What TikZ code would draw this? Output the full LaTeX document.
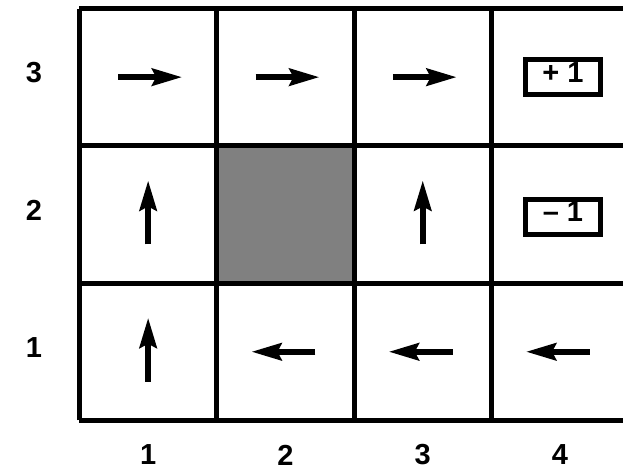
\documentclass[tikz,border=0pt]{standalone}
\usepackage{fontspec}
\setmainfont{Liberation Sans}
\usepackage{tikz}
\usetikzlibrary{arrows.meta}

\begin{document}
\begin{tikzpicture}[x=137.3pt,y=137.3pt,
  policy/.style={line width=6pt,-{Stealth[length=30pt,width=17pt,inset=4pt]}},
  reward/.style={draw,line width=5pt,minimum width=75pt,minimum height=35pt,inner sep=0pt,text depth=9pt,font=\fontsize{29}{29}\selectfont\bfseries},
  lab/.style={font=\fontsize{29}{29}\selectfont\bfseries}]
\useasboundingbox (-0.579,-0.361) rectangle (3.9585,3.062);
\begin{scope}\clip (-0.579,-0.361) rectangle (3.9585,3.062);
\fill[gray] (1,1) rectangle (2,2);
\draw[line width=5pt] (0,0) grid[step=1] (4,3);
\end{scope}
\foreach \r in {1,2,3} \node[lab] (row\r) at (-0.331,{\r-0.47}) {\r};
\foreach \c in {1,2,3,4} \node[lab] (col\c) at ({\c-0.5},-0.252) {\c};
\foreach \c/\r in {1/3,2/3,3/3} \draw[policy] ({\c-0.5-0.218},{\r-0.5}) -- ++(0.466,0);
\foreach \c/\r in {1/2,1/1,3/2} \draw[policy] ({\c-0.5},{\r-0.5-0.218}) -- ++(0,0.466);
\foreach \c in {2,3,4} \draw[policy] ({\c-0.5+0.218},0.5) -- ++(-0.466,0);
\node[reward] (plus) at (3.521,2.501) {+ 1};
\node[reward] (minus) at (3.521,1.485) {– 1};
\end{tikzpicture}
\end{document}
